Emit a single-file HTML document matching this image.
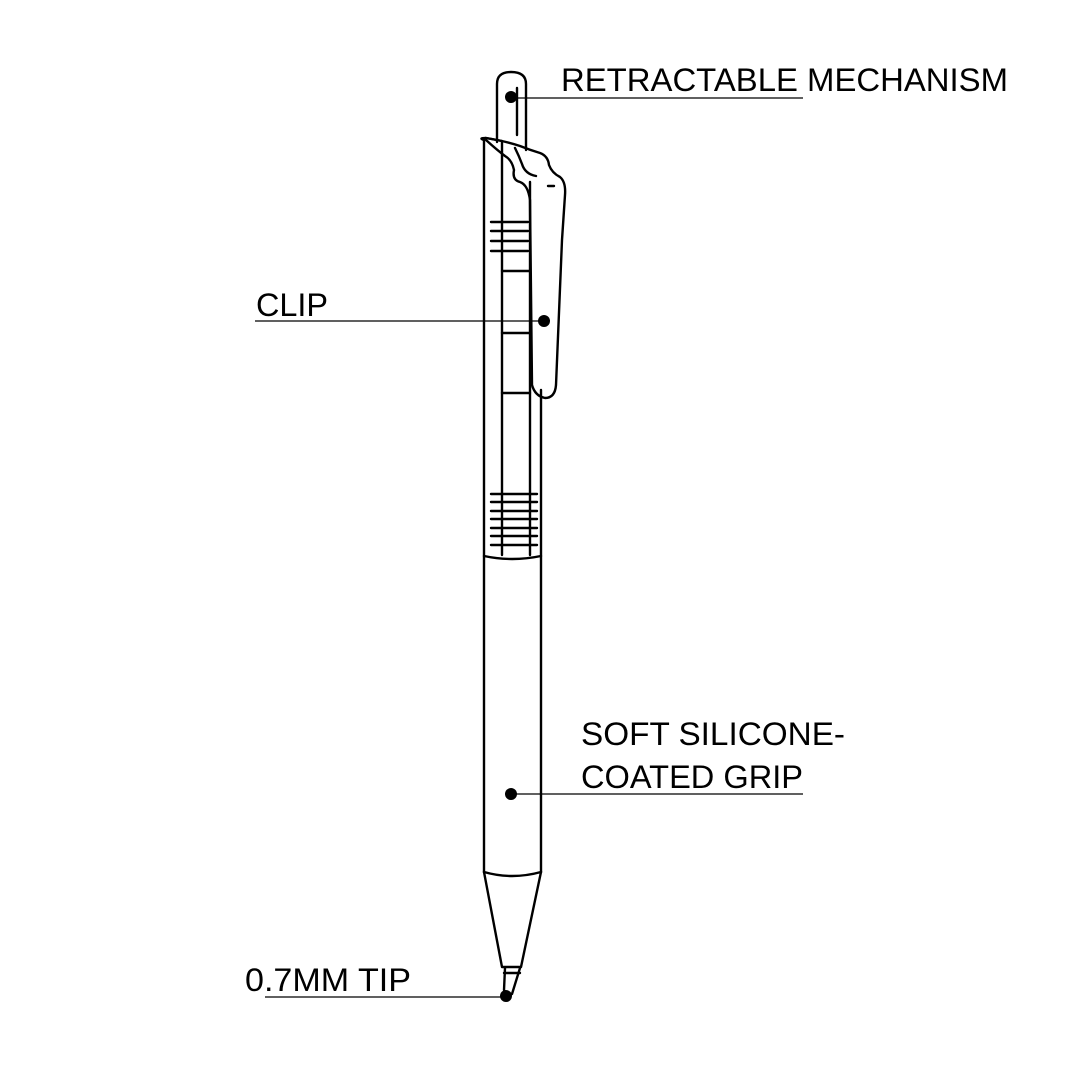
<!DOCTYPE html>
<html><head><meta charset="utf-8"><style>html,body{margin:0;padding:0;background:#fff}svg{display:block}</style></head>
<body>
<svg width="1080" height="1080" viewBox="0 0 1080 1080" xmlns="http://www.w3.org/2000/svg">
<g fill="none" stroke="#000" stroke-width="2.4" stroke-linecap="round" stroke-linejoin="round">
<path d="M497 142 V84 Q497 72 511 72 Q526 72 526 84 V150"/>
<line x1="517" y1="88" x2="517" y2="135"/>
<path d="M484 140 Q478 138 486 138 L502 141"/>
<line x1="484" y1="140" x2="484" y2="872"/>
<line x1="541" y1="390" x2="541" y2="872"/>
<line x1="502" y1="142" x2="502" y2="555"/>
<line x1="530" y1="182" x2="530" y2="555"/>
<path d="M486 138 Q505 141 520 146 Q530 150 540 153 Q548 156 549 165 Q552 173 560 177 Q566 182 565 195 Q564 210 562 240 L556 385 Q555 398 545 398 Q535 396 532 385 L530 200 Q528 185 520 182 Q512 180 514 170 Q512 160 505 156 Q497 150 486 140"/>
<path d="M515 148 Q519 156 522 164 Q525 174 536 176"/>
<line x1="548" y1="186" x2="554" y2="186"/>
<line x1="491" y1="222" x2="528" y2="222"/>
<line x1="491" y1="231" x2="528" y2="231"/>
<line x1="491" y1="241" x2="528" y2="241"/>
<line x1="491" y1="251" x2="528" y2="251"/>
<line x1="502" y1="271" x2="530" y2="271"/>
<line x1="502" y1="333" x2="530" y2="333"/>
<line x1="502" y1="393" x2="530" y2="393"/>
<line x1="491" y1="494" x2="537" y2="494"/>
<line x1="491" y1="502" x2="537" y2="502"/>
<line x1="491" y1="511" x2="537" y2="511"/>
<line x1="491" y1="519" x2="537" y2="519"/>
<line x1="491" y1="528" x2="537" y2="528"/>
<line x1="491" y1="536" x2="537" y2="536"/>
<line x1="491" y1="545" x2="537" y2="545"/>
<path d="M484 556 Q512 562 541 556"/>
<path d="M484 872 Q512 880 541 872"/>
<path d="M484 872 L502 967 L521 967 L541 872"/>
<line x1="504" y1="973" x2="520" y2="973"/>
<path d="M505 968 L504 990 Q507 997 512 994 L520 968"/>
</g>
<g stroke="#000" stroke-width="1.3">
<line x1="511" y1="98" x2="803" y2="98"/>
<line x1="255" y1="321" x2="544" y2="321"/>
<line x1="511" y1="794" x2="803" y2="794"/>
<line x1="265" y1="997" x2="506" y2="997"/>
</g>
<g fill="#000">
<circle cx="511" cy="97" r="6"/>
<circle cx="544" cy="321" r="6"/>
<circle cx="511" cy="794" r="6"/>
<circle cx="506" cy="996" r="6"/>
</g>
<g font-family="Liberation Sans, sans-serif" font-size="32" fill="#000">
<text x="561" y="91" textLength="447" lengthAdjust="spacingAndGlyphs">RETRACTABLE MECHANISM</text>
<text x="256" y="316" textLength="72" lengthAdjust="spacingAndGlyphs">CLIP</text>
<text x="581" y="745" textLength="264" lengthAdjust="spacingAndGlyphs">SOFT SILICONE-</text>
<text x="581" y="788" textLength="222" lengthAdjust="spacingAndGlyphs">COATED GRIP</text>
<text x="245" y="991" textLength="166" lengthAdjust="spacingAndGlyphs">0.7MM TIP</text>
</g>
</svg>
</body></html>
